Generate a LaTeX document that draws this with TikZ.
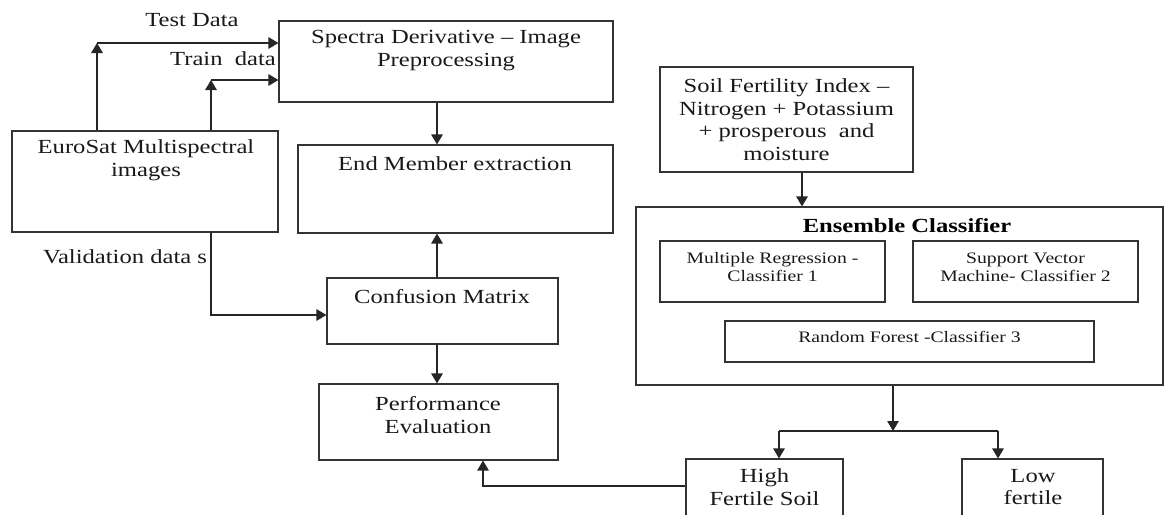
\documentclass[tikz,border=0pt]{standalone}
\usepackage{fontspec}
\setmainfont{Liberation Serif}[FakeStretch=1.23]
\usetikzlibrary{arrows.meta}
\begin{document}
\begin{tikzpicture}[x=1pt,y=-1pt,
  box/.style={draw=black!80, line width=1.1pt, inner sep=0pt},
  txt/.style={font=\fontsize{20}{22.5}\selectfont, align=center, inner sep=0pt, text=black!90},
  stxt/.style={font=\fontsize{16}{18}\selectfont, align=center, inner sep=0pt, text=black!90},
  btxt/.style={font=\fontsize{20}{22.5}\selectfont\bfseries, align=center, inner sep=0pt},
  ln/.style={draw=black!85, line width=1.2pt},
  arr/.style={ln, -{Triangle[length=10pt,width=11.5pt]}}]
\useasboundingbox (0,0) rectangle (1166,514);
\clip (0,0) rectangle (1166,514);

% boxes
\node[box, minimum width=266pt, minimum height=101pt] (euro) at (145,181.5) {};
\node[box, minimum width=334pt, minimum height=81pt] (spec) at (446,61.5) {};
\node[box, minimum width=315pt, minimum height=88pt] (endm) at (455.5,189) {};
\node[box, minimum width=231pt, minimum height=66pt] (conf) at (442.5,311) {};
\node[box, minimum width=239pt, minimum height=76pt] (perf) at (438.5,422) {};
\node[box, minimum width=253pt, minimum height=105pt] (soil) at (786.5,119.5) {};
\node[box, minimum width=527pt, minimum height=178pt] (ens) at (899.5,296) {};
\node[box, minimum width=225pt, minimum height=61pt] (mr) at (772.5,271.5) {};
\node[box, minimum width=225pt, minimum height=61pt] (svm) at (1025.5,271.5) {};
\node[box, minimum width=369pt, minimum height=41pt] (rf) at (909.5,341.5) {};
\node[box, minimum width=157pt, minimum height=90pt] (high) at (764.5,504) {};
\node[box, minimum width=141pt, minimum height=90pt] (low) at (1032.5,504) {};

% texts
\node[txt] (eurot) at (146,160) {EuroSat Multispectral\\images};
\node[txt] (spect) at (446,50.5) {Spectra Derivative – Image\\Preprocessing};
\node[txt] (endmt) at (455,164) {End Member extraction};
\node[txt] (conft) at (442,297) {Confusion Matrix};
\node[txt] (perft) at (438,415) {Performance\\Evaluation};
\node[txt] (soilt) at (786.5,119.5) {Soil Fertility Index –\\Nitrogen + Potassium\\+ prosperous\ \ and\\moisture};
\node[btxt] (enst) at (907,226) {Ensemble Classifier};
\node[stxt] (mrt) at (772.5,267) {Multiple Regression -\\Classifier 1};
\node[stxt] (svmt) at (1025.5,267) {Support Vector\\Machine- Classifier 2};
\node[stxt] (rft) at (909.5,337) {Random Forest -Classifier 3};
\node[txt] (hight) at (764.5,487) {High\\Fertile Soil};
\node[txt] (lowt) at (1033,487) {Low\\fertile};

% edge labels
\node[txt] (testl) at (192,20) {Test Data};
\node[txt] (trainl) at (223,59) {Train\ \ data};
\node[txt] (vall) at (125,257) {Validation data s};

% connector corners
\coordinate (tc) at (97,43);
\coordinate (trc) at (211,80);
\coordinate (vc) at (211,315);
\coordinate (ax) at (437,0);
\coordinate (hp) at (483,486);
\coordinate (sx) at (802,0);
\coordinate (sp) at (893,431);
\coordinate (hl) at (779,431);
\coordinate (hr) at (998,431);

% connectors
\draw[arr] (euro.north -| tc) -- (tc);
\draw[arr] (tc) -- (tc -| spec.west);
\draw[arr] (euro.north -| trc) -- (trc);
\draw[arr] (trc) -- (trc -| spec.west);
\draw[arr] (spec.south -| ax) -- (endm.north -| ax);
\draw[arr] (euro.south -| vc) -- (vc) -- (vc -| conf.west);
\draw[arr] (conf.north -| ax) -- (endm.south -| ax);
\draw[arr] (conf.south -| ax) -- (perf.north -| ax);
\draw[arr] (high.west |- hp) -- (hp) -- (perf.south -| hp);
\draw[arr] (soil.south -| sx) -- (ens.north -| sx);
\draw[arr] (ens.south -| sp) -- (sp);
\draw[ln] (hl) -- (hr);
\draw[arr] (hl) -- (high.north -| hl);
\draw[arr] (hr) -- (low.north -| hr);
\end{tikzpicture}
\end{document}
